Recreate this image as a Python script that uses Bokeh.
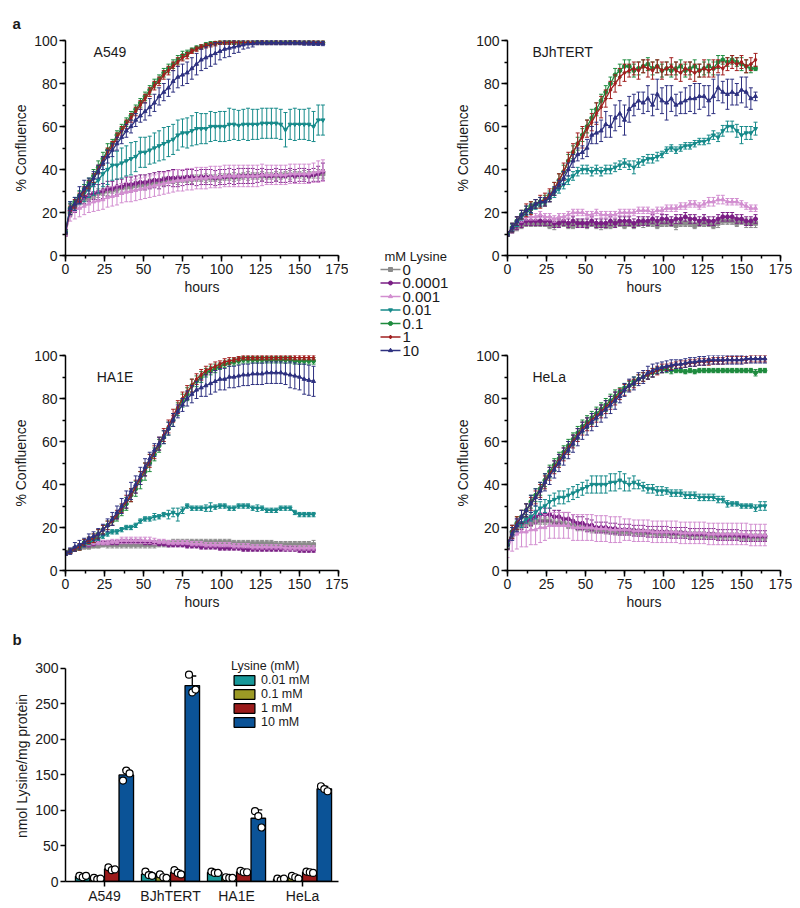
import numpy as np
from bokeh.plotting import figure
from bokeh.models import (Range1d, SingleIntervalTicker, FixedTicker, Legend, LegendItem,
                          Label, GridBox, ColumnDataSource)
from bokeh.core.properties import value
from bokeh.embed import file_html
from bokeh.resources import INLINE

FONT = "Liberation Sans"
TXT = "#1a1a1a"

# ---------------- panel a : confluence curves ----------------
LEGEND_TITLE = "mM Lysine"
CONCENTRATIONS = ["0", "0.0001", "0.001", "0.01", "0.1", "1", "10"]
SERIES_COLORS = ["#8a8a8a", "#7a1e84", "#d28ed0", "#168a8a", "#1e8b3e", "#a11f1f", "#2e3180"]
SERIES_MARKERS = ["square", "circle", "triangle", "inverted_triangle", "circle", "diamond", "triangle"]

HOURS_A549 = list(range(0, 166, 3))
HOURS_BJHTERT = list(range(0, 160, 3))
HOURS_HA1E = list(range(0, 160, 3))
HOURS_HELA = list(range(0, 166, 3))

# ---- A549 (means / SD), order of CONCENTRATIONS ----
A549_M0 = [10, 20, 23, 25, 26, 27, 28, 29,
           29.5, 30, 30.5, 31, 31.5, 32, 32, 32.5,
           33, 33, 33.5, 34, 34, 34.5, 35, 35,
           35, 35.5, 35.5, 35.5, 36, 36, 36, 36,
           36, 36, 36.5, 36.5, 36.5, 36.5, 37, 37,
           37, 37, 37, 37, 37, 37, 37, 37.5,
           37.5, 37.5, 37.5, 37.5, 37.5, 37.5, 38, 38]
A549_E0 = [1, 1.5, 1.5, 1.5, 2, 1.5, 1.5, 2,
           1.5, 2, 1.5, 1.5, 2, 1.5, 1.5, 2,
           1.5, 1.5, 2, 1.5, 1.5, 2, 1.5, 1.5,
           2, 1.5, 1.5, 2, 1.5, 1.5, 2, 1.5,
           1.5, 2, 1.5, 1.5, 2, 1.5, 1.5, 2,
           1.5, 1.5, 2, 1.5, 1.5, 2, 1.5, 1.5,
           2, 1.5, 1.5, 2, 1.5, 1.5, 2, 2]
A549_M1 = [10, 21, 23, 25, 27, 28, 29, 29.5,
           30, 31, 31, 32, 32, 33, 33, 33.5,
           34, 34, 34.5, 35, 35, 35.5, 36, 36,
           36, 36, 36.5, 36.5, 36, 36.5, 36.5, 36.5,
           36, 36.5, 36.5, 37, 36.5, 37, 37, 37,
           37, 37, 37.5, 37, 37, 37.5, 37, 37,
           37.5, 37, 37.5, 37.5, 37, 37.5, 38, 39]
A549_E1 = [1, 3, 3, 3, 3, 3, 3, 3.5,
           3.5, 3.5, 3.5, 3.5, 3.5, 3.5, 3.5, 3.5,
           3.5, 3.5, 3.5, 3.5, 4, 3.5, 3.5, 4,
           4, 3.5, 3.5, 3.5, 3.5, 3.5, 3.5, 3.5,
           3.5, 3.5, 3.5, 3.5, 3.5, 3.5, 3.5, 3.5,
           3.5, 3, 3, 3, 3, 3, 3, 3,
           3, 3, 3, 3, 3, 3, 3.5, 4]
A549_M2 = [10, 19, 21, 22, 23, 24, 25, 25.5,
           26, 27, 27.5, 28, 29, 29.5, 30, 30.5,
           31, 31.5, 32, 32.5, 33, 33.5, 34, 34.5,
           35, 35, 35.5, 35.5, 36, 36, 36, 36.5,
           36.5, 36.5, 37, 37, 37, 37, 37, 37,
           37, 37, 37.5, 37.5, 37.5, 37.5, 37.5, 37.5,
           38, 38, 38, 38, 38, 38.5, 39, 39.5]
A549_E2 = [1, 3, 4, 4, 4, 4, 4.5, 4.5,
           4.5, 4.5, 4.5, 4.5, 4.5, 4.5, 5, 5,
           5, 5, 5, 5, 5, 5, 5, 5,
           5, 5, 5, 5, 5, 5, 5, 5,
           5, 5, 5, 5, 5, 5, 5, 5,
           5, 5, 5, 4.5, 4.5, 4.5, 4.5, 4.5,
           4.5, 4.5, 4.5, 4.5, 4.5, 4.5, 5, 5]
A549_M3 = [11, 22, 24, 27, 29, 31, 33, 35,
           38, 40, 42, 42, 43, 44, 45, 46,
           48, 48, 49, 50, 51, 52, 53, 54,
           56, 57, 57, 58, 59, 59, 59, 60,
           60, 60, 60, 61, 61, 60.5, 61, 61,
           61, 61, 61.5, 61.5, 61.5, 61.5, 61, 58.5,
           61, 61, 61, 61, 61, 60, 63, 63]
A549_E3 = [1, 3, 3, 3, 4, 4, 5, 6,
           6, 7, 7, 6.5, 7, 7, 7.5, 7,
           7, 7, 6.5, 7, 7, 7.5, 7, 7,
           7, 6.5, 7, 7, 7.5, 7, 7, 7,
           6.5, 7, 7, 7.5, 7, 7, 7, 7.5,
           7, 7, 7, 7, 7, 7, 7, 8,
           7, 7.5, 7, 7, 7.5, 7, 7, 7]
A549_M4 = [11, 22, 25, 28, 31, 34, 37, 41,
           45, 49, 52, 56, 59, 62, 65, 68,
           71, 74, 77, 80, 82, 85, 87, 89,
           91, 93, 94, 95.5, 96.5, 97, 98, 98.5,
           98.8, 99, 99, 99.2, 99, 99.1, 99, 99,
           99, 99.2, 99, 99, 99.1, 99, 99, 99,
           99.2, 99, 99, 99, 99.1, 99, 99, 99]
A549_E4 = [1, 2, 2, 2, 2, 2, 3, 3,
           3, 3, 2, 2, 2, 2, 2, 2,
           2, 2, 2, 2, 2, 2, 2, 2,
           2, 2, 1.5, 1, 1, 1, 1, 1,
           0.8, 0.8, 0.8, 0.8, 0.8, 0.8, 0.8, 0.8,
           0.8, 0.8, 0.8, 0.8, 0.8, 0.8, 0.8, 0.8,
           0.8, 0.8, 0.8, 0.8, 0.8, 0.8, 0.8, 0.8]
A549_M5 = [11, 21, 24, 27, 30, 33, 36, 40,
           44, 48, 51, 55, 58, 61, 64, 67,
           70, 73, 76, 79, 81, 84, 86, 88,
           90, 92, 93, 95, 96, 97, 97.5, 98,
           98.5, 99, 99, 99, 99.2, 99, 99, 99.1,
           99, 99, 99.2, 99, 99, 99.1, 99, 99,
           99, 99.2, 99, 99, 99, 99.1, 99, 99]
A549_E5 = [1, 2, 2, 2, 2, 2, 2, 2,
           2, 2, 2, 2, 2, 2, 2, 2,
           2, 2, 2, 2, 2, 2, 2, 2,
           2, 1.5, 1.5, 1, 1, 1, 1, 1,
           1, 0.8, 0.8, 0.8, 0.8, 0.8, 0.8, 0.8,
           0.8, 0.8, 0.8, 0.8, 0.8, 0.8, 0.8, 0.8,
           0.8, 0.8, 0.8, 0.8, 0.8, 0.8, 0.8, 0.8]
A549_M6 = [11, 22, 24, 28, 31, 33, 36, 39,
           43, 46, 49, 52, 55, 58, 60, 63,
           65, 67, 69, 71, 74, 76, 78, 81,
           83, 84, 85, 87, 89, 91, 92, 93,
           94, 95, 96, 96.5, 97, 97.5, 98, 98.5,
           98.5, 99, 99, 99, 99, 99, 99, 99,
           99, 99, 99, 98.8, 98.8, 98.7, 98.7, 98.6]
A549_E6 = [1, 3, 3, 4, 4, 3, 3, 3,
           3, 3, 3, 3, 3, 3, 3, 3,
           3, 4, 4, 4, 4, 4, 4, 5,
           5, 5, 5, 5, 5, 5, 5, 5,
           5, 4, 4, 4, 3, 3, 2, 2,
           1.5, 1, 1, 1, 1, 1, 1, 1,
           1, 1, 1, 1, 1, 1, 1, 1]

# ---- BJhTERT ----
BJ_M0 = [10, 12, 13, 14, 15, 15, 15, 15,
         15, 14, 14, 15, 15, 14, 14, 15,
         15, 14, 15, 14, 14, 14, 14, 15,
         15, 14, 15, 14, 15, 15, 15, 15,
         14, 15, 15, 15, 14, 15, 15, 15,
         14, 15, 15, 15, 14, 15, 16, 16,
         16, 15, 16, 15, 15, 15]
BJ_E0 = [1, 1.5, 1.5, 1.5, 1.5, 1.5, 1.5, 1.5,
         1.5, 1.5, 2, 1.5, 1.5, 1.5, 1.5, 1.5,
         1.5, 1.5, 1.5, 1.5, 2, 1.5, 1.5, 1.5,
         1.5, 1.5, 1.5, 1.5, 1.5, 2, 1.5, 1.5,
         1.5, 1.5, 1.5, 1.5, 2, 1.5, 1.5, 1.5,
         1.5, 1.5, 1.5, 1.5, 1.5, 2, 1.5, 1.5,
         1.5, 1.5, 1.5, 2, 2, 2]
BJ_M1 = [10, 12, 14, 15, 16, 16, 16, 16,
         16, 16, 15, 15, 16, 15, 16, 15,
         15, 15, 16, 15, 15, 15, 16, 15,
         16, 16, 16, 15, 16, 16, 16, 17,
         16, 17, 17, 16, 17, 17, 18, 17,
         17, 16, 17, 16, 16, 17, 18, 18,
         18, 17, 17, 16, 16, 17]
BJ_E1 = [1, 1.5, 2, 2, 2, 2, 2, 2,
         2, 2, 2, 2, 2, 2, 2, 2,
         2, 2, 2, 2, 2, 2, 2, 2,
         2, 2, 2, 2, 2, 2, 2, 2,
         2, 2, 2, 2, 2, 2, 2, 2,
         2, 2, 2, 2, 2, 2, 2, 2,
         2, 2, 2, 2, 2, 2]
BJ_M2 = [10, 13, 15, 17, 18, 18, 18, 19,
         18, 18, 17, 18, 18, 19, 20, 20,
         20, 19, 19, 20, 19, 19, 19, 19,
         20, 20, 20, 20, 21, 21, 21, 20,
         21, 21, 22, 22, 22, 23, 23, 24,
         24, 23, 24, 25, 25, 26, 26, 25,
         25, 25, 24, 23, 22, 22]
BJ_E2 = [1, 1.5, 1.5, 1.5, 1.5, 1.5, 1.5, 1.5,
         1.5, 1.5, 1.5, 1.5, 1.5, 1.5, 1.5, 1.5,
         1.5, 1.5, 1.5, 1.5, 1.5, 1.5, 1.5, 1.5,
         1.5, 1.5, 1.5, 1.5, 1.5, 1.5, 1.5, 1.5,
         1.5, 1.5, 1.5, 1.5, 1.5, 1.5, 1.5, 1.5,
         1.5, 1.5, 1.5, 2, 2, 2, 2, 1.5,
         1.5, 1.5, 1.5, 1.5, 1.5, 1.5]
BJ_M3 = [10, 13, 15, 18, 20, 21, 23, 24,
         25, 27, 29, 31, 33, 35, 37, 39,
         40, 40, 39, 40, 39, 40, 40, 41,
         42, 43, 42, 41, 43, 44, 45, 45,
         46, 47, 49, 50, 49, 50, 51, 51,
         52, 53, 53, 54, 56, 55, 58, 60,
         60, 58, 56, 57, 57, 59]
BJ_E3 = [1, 1.5, 1.5, 1.5, 1.5, 1.5, 1.5, 1.5,
         1.5, 2, 2, 2, 2, 2, 2, 2,
         2, 2, 2, 2, 2, 2, 2, 2,
         2, 2, 2, 3, 2, 2, 2, 2,
         2, 1.5, 1.5, 1.5, 1.5, 1.5, 1.5, 1.5,
         1.5, 1.5, 1.5, 2, 2, 2, 2.5, 2.5,
         2.5, 3, 4, 3, 3, 3]
BJ_M4 = [10, 13, 16, 19, 21, 23, 24, 25,
         26, 28, 31, 35, 39, 44, 48, 52,
         56, 60, 64, 68, 72, 76, 80, 84,
         86, 88, 88, 86, 87, 88, 89, 87,
         88, 86, 87, 86, 87, 88, 86, 87,
         88, 86, 87, 88, 87, 90, 91, 90,
         91, 90, 89, 88, 87, 87]
BJ_E4 = [1, 2, 2, 2, 2, 2, 2, 2,
         2, 2, 3, 3, 3, 3, 3, 3,
         3, 3, 4, 3, 3, 3, 3, 3,
         3, 3, 3, 3, 3, 3, 3, 3,
         3, 3, 3, 3, 3, 3, 3, 3,
         3, 3, 3, 3, 3, 3, 2, 2,
         2, 2, 3, 3, 2, 1]
BJ_M5 = [10, 13, 16, 19, 21, 22, 24, 25,
         26, 28, 31, 35, 39, 44, 48, 52,
         55, 59, 62, 66, 69, 73, 77, 80,
         83, 85, 86, 87, 86, 88, 87, 86,
         88, 86, 87, 88, 86, 85, 87, 86,
         85, 86, 87, 86, 87, 88, 87, 89,
         90, 89, 90, 88, 89, 91]
BJ_E5 = [1, 2, 2, 2, 3, 3, 2, 3,
         3, 3, 3, 3, 4, 4, 4, 5,
         5, 4, 4, 5, 5, 4, 4, 4,
         4, 4, 3, 3, 4, 3, 4, 4,
         3, 4, 3, 4, 4, 4, 3, 4,
         4, 3, 4, 3, 4, 3, 3, 3,
         3, 3, 3, 3, 3, 3]
BJ_M6 = [10, 13, 16, 19, 21, 22, 24, 25,
         25, 27, 30, 33, 36, 40, 44, 47,
         48, 50, 56, 57, 58, 61, 60, 64,
         66, 63, 68, 70, 72, 71, 73, 70,
         75, 72, 71, 73, 70, 71, 72, 73,
         73, 74, 74, 72, 74, 78, 76, 75,
         76, 75, 77, 76, 73, 74]
BJ_E6 = [1, 2, 2, 2, 2, 2, 2, 2,
         2, 2, 2, 2, 3, 3, 3, 3,
         3, 4, 4, 5, 5, 6, 5, 6,
         6, 7, 6, 5, 4, 5, 6, 5,
         7, 6, 8, 6, 5, 5, 6, 6,
         7, 6, 5, 7, 8, 6, 5, 7,
         6, 5, 6, 7, 5, 2]

# ---- HA1E ----
HA_M0 = [8, 9, 10, 10.5, 11, 11, 11.5, 11.5,
         12, 12, 12, 12, 12, 12, 12, 12,
         12, 12, 12, 12, 12.5, 12.5, 12.5, 13,
         13, 13, 13, 13, 13, 13, 13, 13,
         13, 13, 13, 13, 12.5, 12.5, 12.5, 12.5,
         12.5, 12.5, 12.5, 12.5, 12.5, 12, 12, 12,
         12, 12, 12, 12, 12, 12]
HA_E0 = [1, 1, 1, 1, 1, 1, 1, 1,
         1, 1.5, 1.5, 1.5, 1.5, 1.5, 1.5, 1.5,
         1.5, 1.5, 1.5, 1.5, 1.5, 1.5, 1.5, 1.5,
         1.5, 1.5, 1.5, 1.5, 1.5, 1.5, 1.5, 1.5,
         1.5, 1.5, 1.5, 1.5, 1.5, 1.5, 1.5, 1.5,
         1.5, 1.5, 1.5, 1.5, 1.5, 1.5, 1.5, 1.5,
         1.5, 1.5, 1.5, 1.5, 1.5, 2]
HA_M1 = [8, 9, 10, 11, 12, 12, 12.5, 13,
         13, 13, 13, 13, 13.5, 13.5, 13.5, 13.5,
         13.5, 13, 13, 13, 12.5, 12.5, 12, 12,
         12, 12, 11.5, 11.5, 11.5, 11, 11, 11,
         11, 10.5, 10.5, 10.5, 10.5, 10.5, 10, 10,
         10, 10, 10, 10, 10, 10, 10, 10,
         10, 10, 9.5, 9.5, 9.5, 9.5]
HA_E1 = [1, 1, 1, 1, 1, 1, 1, 1,
         1, 1, 1, 1, 1, 1, 1, 1,
         1, 1, 1, 1, 1, 1, 1, 1,
         1, 1, 1, 1, 1, 1, 1, 1,
         1, 1, 1, 1, 1, 1, 1, 1,
         1, 1, 1, 1, 1, 1, 1, 1,
         1, 1, 1, 1, 1, 1]
HA_M2 = [8, 9, 10, 11, 12, 12.5, 13, 13,
         13, 13, 13.5, 13.5, 14, 14, 14, 14,
         14, 14, 14, 13.5, 13.5, 13.5, 13, 13,
         13, 13, 13, 12.5, 12.5, 12.5, 12, 12,
         12, 12, 12, 12, 11.5, 11.5, 11.5, 11.5,
         11, 11, 11, 11, 11, 11, 11, 10.5,
         10.5, 10.5, 10.5, 10.5, 10.5, 10.5]
HA_E2 = [1, 1, 1, 1, 1, 1, 1, 1,
         1, 1, 1, 1, 1.5, 1.5, 1.5, 1.5,
         1.5, 1.5, 1.5, 1.5, 1, 1, 1, 1,
         1, 1, 1, 1, 1, 1, 1, 1,
         1, 1, 1, 1, 1, 1, 1, 1,
         1, 1, 1, 1, 1, 1, 1, 1,
         1, 1, 1, 1, 1, 1]
HA_M3 = [8, 9, 10, 11, 12, 13, 14, 15,
         16, 17, 18, 18, 19, 20, 20, 21,
         23, 24, 24, 25, 25, 26, 26, 27,
         26, 28, 30, 29, 29, 29, 29, 29.5,
         29.5, 30, 30, 29, 29, 30, 30, 30,
         29, 29, 29, 28, 28, 28, 29, 29,
         29, 27, 26, 26, 26, 26]
HA_E3 = [1, 1, 1, 1, 1, 1, 1, 1,
         1, 1, 1, 1, 1, 1, 1, 1,
         1, 1, 1, 1.5, 1, 1, 2, 2,
         3, 1.5, 1, 1, 1, 1, 1.5, 2,
         1, 1, 1, 1, 1, 1, 1, 1,
         1, 1.5, 1, 1, 1, 1, 1, 1,
         1, 1, 1, 1, 1, 1]
HA_M4 = [8, 9, 10, 11, 13, 14, 15, 17,
         19, 21, 23, 25, 28, 31, 35, 38,
         42, 46, 50, 54, 58, 62, 66, 70,
         75, 79, 82, 86, 88, 90, 92, 93,
         94, 95, 96, 96.5, 97, 97.5, 98, 98,
         98, 98, 98, 98, 98, 98, 98, 98,
         98, 97.5, 97.5, 97.5, 97.5, 97.5]
HA_E4 = [1, 1, 1, 1.5, 1.5, 1.5, 2, 2,
         2, 2, 2, 2, 2.5, 3, 3, 3.5,
         4, 4, 4, 3, 3, 3, 3, 3,
         3, 3, 3, 3, 2.5, 2.5, 2, 2,
         2, 1.5, 1.5, 1.5, 1.5, 1.5, 1.5, 1.5,
         1.5, 1.5, 1.5, 1.5, 1.5, 1.5, 1.5, 1.5,
         1.5, 1.5, 1.5, 1.5, 1.5, 1.5]
HA_M5 = [8, 9, 10, 11, 13, 14, 15, 17,
         19, 21, 23, 26, 29, 32, 35, 39,
         43, 47, 51, 55, 59, 63, 67, 72,
         76, 80, 83, 86, 89, 91, 93, 94,
         95, 96, 97, 97.5, 98, 98.5, 99, 99,
         99, 99, 99, 99, 99, 99, 99, 99,
         99, 99, 99, 99, 99, 99]
HA_E5 = [1, 1, 1, 1.5, 1.5, 1.5, 2, 2,
         2, 2, 2, 2, 2, 3, 3, 3,
         3, 3, 3, 3, 3, 3, 3, 3,
         3, 3, 3, 3, 2.5, 2.5, 2, 2,
         2, 1.5, 1.5, 1.5, 1, 1, 1, 1,
         1, 1, 1, 1, 1, 1, 1, 1,
         1, 1, 1, 1, 1, 1]
HA_M6 = [8, 9, 11, 12, 13, 15, 16, 17,
         19, 21, 24, 27, 30, 33, 37, 40,
         44, 48, 52, 56, 59, 62, 66, 70,
         74, 77, 80, 82, 84, 85, 86, 87,
         88, 89, 89, 90, 90, 90.5, 91, 91,
         91.5, 91.5, 91.5, 92, 92, 92, 92, 91.5,
         91, 90.5, 90, 89, 88.5, 88]
HA_E6 = [1, 1.5, 2, 2, 2, 2, 2, 2.5,
         2.5, 3, 3, 3, 3.5, 4, 4, 4,
         4, 4, 3, 3, 3, 3, 3, 3,
         3, 3, 3.5, 4, 4, 4, 5, 5,
         5, 5, 5, 5, 5, 5, 5, 5,
         5, 5, 5, 5, 5, 5, 5, 5,
         6, 6, 6, 7, 7, 7]

# ---- HeLa ----
HE_M0 = [11, 17, 20, 21, 22, 22, 23, 23,
         23, 23, 22, 22, 22, 21, 21, 20,
         20, 20, 19, 19, 19, 18.5, 18.5, 18,
         18, 18, 18, 18, 17.5, 17.5, 17.5, 17.5,
         17, 17, 17, 17, 17, 17, 16.5, 16.5,
         16.5, 16.5, 16.5, 16, 16, 16, 16, 16,
         16, 16, 15.5, 15.5, 15.5, 15.5, 15.5, 15.5]
HE_E0 = [1, 1.5, 1.5, 1.5, 1.5, 1.5, 1.5, 1.5,
         1.5, 1.5, 1.5, 1.5, 1.5, 1.5, 1.5, 1.5,
         1.5, 1.5, 1.5, 1.5, 1.5, 1.5, 1.5, 1.5,
         1.5, 1.5, 1.5, 1.5, 1.5, 1.5, 1.5, 1.5,
         1.5, 1.5, 1.5, 1.5, 1.5, 1.5, 1.5, 1.5,
         1.5, 1.5, 1.5, 1.5, 1.5, 1.5, 1.5, 1.5,
         1.5, 1.5, 1.5, 1.5, 1.5, 1.5, 1.5, 1.5]
HE_M1 = [12, 18, 21, 22, 23, 24, 25, 26,
         26, 26, 25, 25, 24, 24, 23, 22,
         22, 21, 21, 20, 20, 20, 19.5, 19.5,
         19, 19, 19, 18.5, 18.5, 18.5, 18, 18,
         18, 18, 18, 17.5, 17.5, 17.5, 17.5, 17,
         17, 17, 17, 17, 17, 16.5, 16.5, 16.5,
         16.5, 16.5, 16, 16, 16, 16, 16, 16]
HE_E1 = [2, 3, 3, 3, 3, 3, 3, 3,
         3, 3, 3, 3, 3, 3, 3, 3,
         3, 3, 2.5, 2.5, 2.5, 2.5, 2.5, 2.5,
         2.5, 2.5, 2.5, 2.5, 2.5, 2.5, 2.5, 2.5,
         2.5, 2.5, 2.5, 2.5, 2.5, 2.5, 2.5, 2.5,
         2.5, 2.5, 2.5, 2.5, 2.5, 2.5, 2.5, 2.5,
         2.5, 2.5, 2.5, 2.5, 2.5, 2.5, 2.5, 2.5]
HE_M2 = [10, 15, 17, 18, 18, 19, 19, 20,
         20, 21, 21, 21, 21, 21, 20, 20,
         20, 20, 20, 19.5, 19.5, 19.5, 19, 19,
         19, 19, 19, 18.5, 18.5, 18.5, 18.5, 18,
         18, 18, 18, 18, 18, 17.5, 17.5, 17.5,
         17.5, 17.5, 17.5, 17, 17, 17, 17, 17,
         17, 17, 17, 17, 16.5, 16.5, 16.5, 16.5]
HE_E2 = [4, 6, 7, 7, 7, 7, 7, 7,
         6, 6, 6, 6, 6, 6, 6, 6,
         6, 6, 6, 6, 6, 6, 6, 6,
         6, 5, 5, 5, 5, 5, 5, 5,
         5, 5, 5, 5, 5, 5, 5, 5,
         5, 5, 5, 5, 5, 5, 5, 5,
         5, 5, 5, 5, 5, 5, 5, 5]
HE_M3 = [12, 18, 21, 22, 24, 25, 27, 29,
         30, 32, 33, 34, 34, 35, 36, 37,
         38, 39, 40, 40, 40, 40, 41, 41,
         42, 41, 40, 41, 40, 39, 38, 38,
         37, 37, 37, 36, 36, 36, 35, 35,
         35, 34, 34, 34, 34, 33, 33, 31,
         31, 31, 30, 30, 30, 29, 30, 30]
HE_E3 = [1, 2, 2, 2, 2, 2, 3, 3,
         3, 3, 3, 3, 3, 3, 3, 3,
         3, 3, 4, 4, 4, 4, 4, 4,
         4, 4, 3, 3, 2, 2, 2, 2,
         2, 2, 1.5, 1.5, 1.5, 1.5, 1.5, 1.5,
         1.5, 1.5, 1.5, 1.5, 1.5, 1.5, 1.5, 1.5,
         1, 1, 1, 1, 1, 1.5, 2, 2]
HE_M4 = [12, 18, 22, 25, 28, 32, 35, 38,
         42, 46, 49, 52, 55, 58, 61, 64,
         67, 69, 71, 73, 75, 77, 79, 81,
         83, 85, 86, 88, 89, 90, 91, 92,
         93, 93.5, 93.5, 93, 93, 93, 92.5, 93,
         92.5, 93, 93, 93, 93, 93, 93, 93,
         93, 93, 93, 93, 93, 92, 93, 93]
HE_E4 = [2, 3, 3, 3, 3, 3, 3, 3,
         3, 3, 3, 3, 3, 3, 3, 3,
         3, 3, 3, 3, 3, 3, 3, 3,
         2, 2, 2, 2, 2, 2, 2, 2,
         1.5, 1.5, 1.5, 1.5, 1, 1, 1, 1,
         1, 1, 1, 1, 1, 1, 1, 1,
         1, 1, 1, 1, 1, 1.5, 1, 1]
HE_M5 = [12, 18, 22, 25, 28, 31, 34, 37,
         41, 45, 48, 51, 54, 57, 60, 63,
         66, 68, 70, 72, 74, 76, 78, 80,
         82, 84, 86, 87, 89, 90, 91, 92,
         93, 94, 94.5, 95, 95.5, 96, 96, 96.5,
         96.5, 97, 97, 97, 97.5, 97.5, 97.5, 98,
         98, 98, 98, 98, 98.5, 98.5, 98.5, 98.5]
HE_E5 = [2, 3, 3, 3, 3, 3, 3, 3,
         3, 3, 3, 3, 3, 3, 3, 3,
         3, 3, 3, 3, 3, 3, 3, 3,
         2.5, 2.5, 2.5, 2, 2, 2, 2, 2,
         2, 2, 1.5, 1.5, 1.5, 1.5, 1.5, 1.5,
         1.5, 1.5, 1.5, 1.5, 1.5, 1.5, 1.5, 1.5,
         1.5, 1.5, 1.5, 1.5, 1.5, 1.5, 1.5, 1.5]
HE_M6 = [12, 17, 21, 25, 28, 31, 34, 37,
         41, 44, 47, 50, 53, 56, 59, 62,
         65, 67, 69, 71, 73, 75, 77, 79,
         81, 84, 86, 87, 89, 90, 92, 93,
         94, 94.5, 95, 95.5, 96, 96, 96.5, 97,
         97, 97.5, 97.5, 98, 98, 98, 98, 98,
         98, 98, 98, 98.5, 98.5, 98.5, 98.5, 98.5]
HE_E6 = [2, 3, 3, 3, 3, 4, 4, 4,
         4, 4, 4, 4, 4, 4, 4, 4,
         4, 4, 4, 4, 4, 4, 4, 4,
         3, 3, 3, 3, 3, 3, 3, 3,
         2.5, 2.5, 2.5, 2.5, 2, 2, 2, 2,
         2, 2, 2, 2, 2, 2, 2, 2,
         2, 2, 2, 2, 2, 2, 2, 2]

PANELS = [
    ("A549", HOURS_A549,
     [A549_M0, A549_M1, A549_M2, A549_M3, A549_M4, A549_M5, A549_M6],
     [A549_E0, A549_E1, A549_E2, A549_E3, A549_E4, A549_E5, A549_E6], (18, 94.5)),
    ("BJhTERT", HOURS_BJHTERT,
     [BJ_M0, BJ_M1, BJ_M2, BJ_M3, BJ_M4, BJ_M5, BJ_M6],
     [BJ_E0, BJ_E1, BJ_E2, BJ_E3, BJ_E4, BJ_E5, BJ_E6], (16, 94.5)),
    ("HA1E", HOURS_HA1E,
     [HA_M0, HA_M1, HA_M2, HA_M3, HA_M4, HA_M5, HA_M6],
     [HA_E0, HA_E1, HA_E2, HA_E3, HA_E4, HA_E5, HA_E6], (20, 90)),
    ("HeLa", HOURS_HELA,
     [HE_M0, HE_M1, HE_M2, HE_M3, HE_M4, HE_M5, HE_M6],
     [HE_E0, HE_E1, HE_E2, HE_E3, HE_E4, HE_E5, HE_E6], (16, 90)),
]

# ---------------- panel b : bar chart ----------------
CELL_LINES = ["A549", "BJhTERT", "HA1E", "HeLa"]
BAR_LABELS = ["0.01 mM", "0.1 mM", "1 mM", "10 mM"]
BAR_COLORS = ["#17989a", "#9c9a25", "#9b1b1b", "#0b5397"]
REPS_001 = [[8, 6, 8], [14, 9, 8], [14, 12, 12], [4, 2, 4]]
REPS_01 = [[5, 3, 4], [10, 6, 5], [6, 5, 5], [8, 6, 4]]
REPS_1 = [[20, 16, 17], [16, 12, 10], [15, 13, 13], [14, 13, 12]]
REPS_10 = [[142, 156, 152], [291, 266, 270], [99, 92, 76], [134, 130, 127]]
BAR_REPS = [REPS_001, REPS_01, REPS_1, REPS_10]


def style_axes(p, xint, yint, xminor, yminor, xlabel, ylabel):
    p.xaxis.ticker = SingleIntervalTicker(interval=xint, num_minor_ticks=xminor)
    p.yaxis.ticker = SingleIntervalTicker(interval=yint, num_minor_ticks=yminor)
    p.xaxis.axis_label = xlabel
    p.yaxis.axis_label = ylabel
    for ax in (p.xaxis[0], p.yaxis[0]):
        ax.axis_line_width = 1.5
        ax.axis_line_color = "black"
        ax.major_tick_line_width = 1.5
        ax.major_tick_line_color = "black"
        ax.major_tick_out = 6
        ax.major_tick_in = 0
        ax.minor_tick_line_width = 1.5
        ax.minor_tick_line_color = "black"
        ax.minor_tick_out = 3
        ax.minor_tick_in = 0
        ax.major_label_text_font = FONT
        ax.major_label_text_font_size = "14px"
        ax.major_label_text_color = TXT
        ax.major_label_standoff = 2
        ax.axis_label_text_font = FONT
        ax.axis_label_text_font_size = "14px"
        ax.axis_label_text_font_style = "normal"
        ax.axis_label_text_color = TXT
        ax.axis_label_standoff = 2
    p.xgrid.visible = False
    p.ygrid.visible = False
    p.outline_line_color = None
    p.background_fill_color = "white"
    p.border_fill_color = "white"


def panel_letter(p, letter, standoff):
    p.title.text = letter
    p.title.align = "left"
    p.title.offset = -53
    p.title.standoff = standoff
    p.title.text_font = FONT
    p.title.text_font_size = "15px"
    p.title.text_font_style = "bold"
    p.title.text_color = TXT


def make_panel(name, hours, means, errs, name_xy, width, height, left, top, bottom, right):
    p = figure(width=width, height=height, x_range=Range1d(0, 175), y_range=Range1d(0, 100),
               output_backend="svg", toolbar_location=None,
               min_border_left=left, min_border_right=right,
               min_border_top=top, min_border_bottom=bottom)
    style_axes(p, 25, 20, 2, 2, "hours", "% Confluence")
    for i in range(len(CONCENTRATIONS)):
        assert len(means[i]) == len(hours), (name, i, len(means[i]), len(hours))
        assert len(errs[i]) == len(hours), (name, "err", i, len(errs[i]), len(hours))
        m = np.array(means[i], dtype=float)
        e = np.array(errs[i], dtype=float)
        src = ColumnDataSource(dict(t=hours, m=m, lo=m - e, hi=m + e))
        c = SERIES_COLORS[i]
        p.segment(x0="t", y0="lo", x1="t", y1="hi", source=src, line_color=c, line_width=1)
        p.scatter(x="t", y="lo", source=src, marker="dash", size=4, line_color=c, line_width=1)
        p.scatter(x="t", y="hi", source=src, marker="dash", size=4, line_color=c, line_width=1)
        p.line(x="t", y="m", source=src, line_color=c, line_width=1.3)
        p.scatter(x="t", y="m", source=src, marker=SERIES_MARKERS[i], size=4,
                  fill_color=c, line_color=c)
    p.add_layout(Label(x=name_xy[0], y=name_xy[1], text=name, text_font=FONT,
                       text_font_size="14px", text_color=TXT, text_baseline="middle"))
    return p


# width, height, left, top, bottom, right
specs = [(348, 300, 65, 40, 45, 10), (342, 300, 57, 40, 45, 12),
         (348, 315, 65, 55, 45, 10), (342, 315, 57, 55, 45, 12)]
figs = []
for (name, hours, means, errs, nxy), sp in zip(PANELS, specs):
    figs.append(make_panel(name, hours, means, errs, nxy, *sp))
panel_letter(figs[0], "a", 18)

# ---- shared legend, drawn in its own narrow figure spanning the two rows ----
# the figure's ranges equal its frame in pixels, so the legend is laid out in pixels
LEG_LEFT, LEG_RIGHT, LEG_TOP, LEG_BOTTOM = 348, 450, 40, 570
leg = figure(width=102, height=615, x_range=Range1d(LEG_LEFT, LEG_RIGHT),
             y_range=Range1d(LEG_BOTTOM, LEG_TOP),
             output_backend="svg", toolbar_location=None,
             min_border_left=0, min_border_top=40, min_border_right=0, min_border_bottom=45,
             x_axis_location=None, y_axis_location=None)
leg.xgrid.visible = False
leg.ygrid.visible = False
leg.outline_line_color = None
row_step = 13.5
first_row = 269
swatch_x0, swatch_x1, text_x = 380, 400, 402
rows_y = [first_row + row_step * i for i in range(len(CONCENTRATIONS))]
lsrc = ColumnDataSource(dict(y=rows_y, c=SERIES_COLORS, m=SERIES_MARKERS, t=CONCENTRATIONS))
leg.segment(x0=swatch_x0, x1=swatch_x1, y0="y", y1="y", source=lsrc, line_color="c", line_width=1.3)
leg.scatter(x=(swatch_x0 + swatch_x1) / 2, y="y", marker="m", source=lsrc, size=4,
            fill_color="c", line_color="c")
leg.text(x=text_x, y="y", text="t", source=lsrc, text_font=value(FONT),
         text_font_size=value("15px"), text_color=TXT, text_baseline="middle")
leg.text(x=[384], y=[first_row - 13], text=[LEGEND_TITLE], text_font=value(FONT),
         text_font_size=value("13px"), text_color=TXT, text_baseline="middle")

# ---- bar chart ----
bar = figure(width=348, height=291, x_range=Range1d(0.409, 4.545), y_range=Range1d(0, 325),
             output_backend="svg", toolbar_location=None,
             min_border_left=65, min_border_right=10, min_border_top=35, min_border_bottom=25)
style_axes(bar, 1, 50, 0, 0, None, "nmol Lysine/mg protein")
bar.xaxis.ticker = FixedTicker(ticks=[1, 2, 3, 4])
bar.xaxis.major_label_overrides = {1: "A549", 2: "BJhTERT", 3: "HA1E", 4: "HeLa"}
bar.xaxis.major_tick_out = 5
bar.xaxis.major_label_standoff = 1
bar.yaxis.major_tick_out = 5
bar.yaxis.bounds = (0, 300)
panel_letter(bar, "b", 5)

OFFSETS = [-0.33, -0.11, 0.11, 0.33]
DOT_JITTER = [-0.05, 0.0, 0.05]
bar_items = []
for k, (lab, col, reps) in enumerate(zip(BAR_LABELS, BAR_COLORS, BAR_REPS)):
    arr = np.array(reps, dtype=float)
    mean = arr.mean(axis=1)
    sd = arr.std(axis=1, ddof=1)
    xs = np.arange(1, len(CELL_LINES) + 1) + OFFSETS[k]
    src = ColumnDataSource(dict(x=xs, top=mean, hi=mean + sd))
    r = bar.vbar(x="x", top="top", width=0.22, source=src, fill_color=col,
                 line_color="black", line_width=1.3)
    bar.segment(x0="x", y0="top", x1="x", y1="hi", source=src, line_color="black", line_width=1.3)
    bar.scatter(x="x", y="hi", source=src, marker="dash", size=8, line_color="black", line_width=1.3)
    dx, dy = [], []
    for g in range(len(CELL_LINES)):
        for j, v in enumerate(reps[g]):
            dx.append(xs[g] + DOT_JITTER[j])
            dy.append(v)
    bar.scatter(x=dx, y=dy, marker="circle", size=7, fill_color="white",
                line_color="black", line_width=1.2)
    bar_items.append(LegendItem(label=lab, renderers=[r]))

blg = Legend(items=bar_items, location=(166, 152), title="Lysine (mM)",
             title_text_font=FONT, title_text_font_size="12.5px", title_text_font_style="normal",
             title_text_color=TXT, title_standoff=0,
             label_text_font=FONT, label_text_font_size="12.5px", label_text_color=TXT,
             glyph_width=26, glyph_height=12, label_height=12, label_standoff=4,
             spacing=0, padding=0, margin=0, border_line_color=None, background_fill_alpha=0)
bar.add_layout(blg)

grid = GridBox(children=[(figs[0], 0, 0), (leg, 0, 1, 2, 1), (figs[1], 0, 2),
                         (figs[2], 1, 0), (figs[3], 1, 2), (bar, 2, 0)], spacing=0)

open("out.html", "w").write(file_html(grid, INLINE))
